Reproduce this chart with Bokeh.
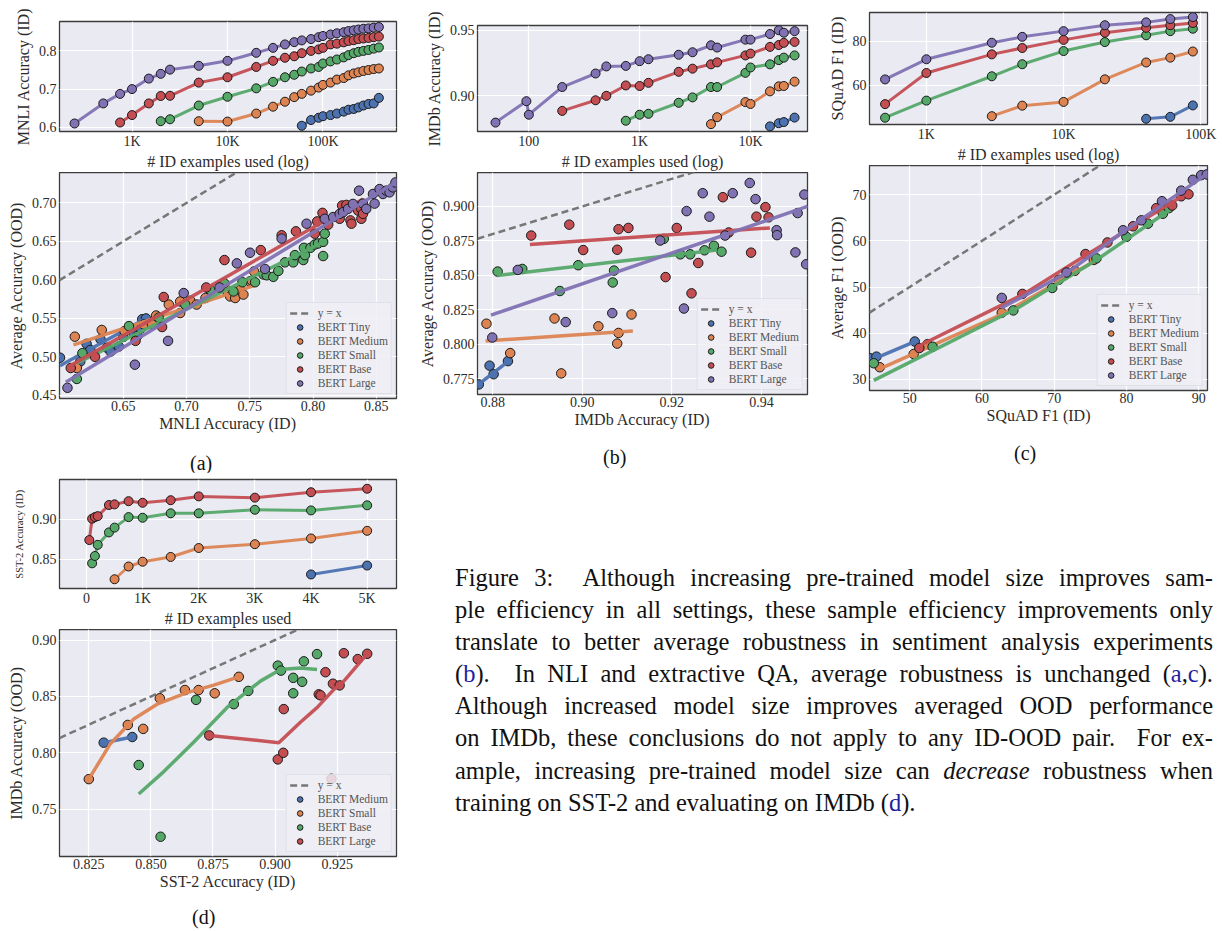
from bokeh.plotting import figure
from bokeh.layouts import column, row
from bokeh.models import Range1d, FixedTicker, PrintfTickFormatter, Legend, LegendItem, Div
from bokeh.embed import file_html
from bokeh.resources import INLINE

# ---------------- styles ----------------
BG = "#EAEAF2"
C_TINY, C_MED, C_SMALL, C_BASE, C_LARGE = "#4C72B0", "#DD8452", "#55A868", "#C44E52", "#8172B3"
SERIF = "Liberation Serif"

# ---------------- (a) MNLI: sample efficiency ----------------
mnli_n_large = [250, 500, 750, 1000, 1500, 2000, 2500, 5000, 10000, 20000, 30000, 40000, 50000, 60000, 75000,
                90000, 100000, 120000, 140000, 165000, 185000, 210000, 235000, 265000, 300000, 340000, 385000]
mnli_id_large = [0.610, 0.6625, 0.6875, 0.700, 0.7275, 0.740, 0.751, 0.761, 0.774, 0.795, 0.808, 0.817, 0.823,
                 0.8275, 0.831, 0.836, 0.839, 0.843, 0.846, 0.849, 0.852, 0.854, 0.856, 0.858, 0.859, 0.861, 0.8625]
mnli_n_base = mnli_n_large[2:]
mnli_id_base = [0.6125, 0.632, 0.6625, 0.682, 0.6825, 0.717, 0.731, 0.758, 0.774, 0.782, 0.786, 0.794, 0.800,
                0.804, 0.808, 0.817, 0.819, 0.8225, 0.826, 0.828, 0.831, 0.8325, 0.834, 0.836, 0.8375]
mnli_n_small = mnli_n_large[5:]
mnli_id_small = [0.616, 0.621, 0.657, 0.680, 0.702, 0.719, 0.731, 0.7375, 0.746, 0.754, 0.758, 0.767, 0.7725,
                 0.7775, 0.783, 0.789, 0.794, 0.7975, 0.800, 0.8025, 0.806, 0.809]
mnli_n_medium = mnli_n_large[7:]
mnli_id_medium = [0.616, 0.615, 0.636, 0.654, 0.667, 0.679, 0.6875, 0.696, 0.704, 0.711, 0.717, 0.725, 0.729,
                  0.736, 0.741, 0.744, 0.7475, 0.750, 0.7525, 0.754]
mnli_n_tiny = mnli_n_large[13:]
mnli_id_tiny = [0.604, 0.619, 0.625, 0.629, 0.632, 0.636, 0.641, 0.646, 0.648, 0.652, 0.657, 0.661, 0.6625, 0.677]

# ---------------- (a) MNLI: ID vs OOD ----------------
ab_tiny_x = [0.600, 0.616, 0.621, 0.624, 0.632, 0.637, 0.640, 0.6465, 0.650, 0.658, 0.661, 0.664, 0.665, 0.668]
ab_tiny_y = [0.499, 0.494, 0.517, 0.509, 0.523, 0.512, 0.507, 0.5135, 0.526, 0.531, 0.527, 0.537, 0.549, 0.550]
ab_med_x = [0.6117, 0.6133, 0.633, 0.651, 0.6663, 0.6728, 0.676, 0.686, 0.695, 0.695, 0.703, 0.708, 0.715, 0.7306,
            0.7327, 0.7345, 0.7385, 0.7424, 0.745, 0.750, 0.7516, 0.7534]
ab_med_y = [0.5263, 0.4856, 0.535, 0.5336, 0.5422, 0.5422, 0.5538, 0.568, 0.557, 0.572, 0.573, 0.568, 0.5765, 0.589,
            0.583, 0.5786, 0.5765, 0.587, 0.581, 0.598, 0.599, 0.611]
ab_small_x = [0.6133, 0.6177, 0.6545, 0.678, 0.699, 0.7188, 0.7298, 0.7371, 0.7442, 0.7542, 0.7608, 0.7634, 0.7686,
              0.7726, 0.7778, 0.7844, 0.7857, 0.7923, 0.7936, 0.7928, 0.798, 0.8014, 0.804, 0.808, 0.8093, 0.808]
ab_small_y = [0.4714, 0.5049, 0.540, 0.551, 0.568, 0.587, 0.5958, 0.585, 0.597, 0.597, 0.607, 0.606, 0.604, 0.6117,
              0.6228, 0.6228, 0.6322, 0.6258, 0.6322, 0.6417, 0.6417, 0.646, 0.6473, 0.6494, 0.660, 0.631]
ab_base_x = [0.6085, 0.6277, 0.6597, 0.6807, 0.682, 0.7156, 0.730, 0.7587, 0.7752, 0.7865, 0.8014, 0.8033, 0.8075,
             0.812, 0.8211, 0.823, 0.8264, 0.8296, 0.8304, 0.8356, 0.8382, 0.8382, 0.8395]
ab_base_y = [0.4856, 0.500, 0.5208, 0.5388, 0.5778, 0.5902, 0.6258, 0.6387, 0.658, 0.6631, 0.660, 0.676, 0.6871,
             0.6717, 0.6794, 0.6966, 0.6974, 0.6773, 0.673, 0.690, 0.6923, 0.6794, 0.6858]
ab_large_x = [0.6059, 0.6592, 0.6854, 0.6978, 0.7261, 0.7398, 0.7502, 0.762, 0.7752, 0.7949, 0.8093, 0.8159, 0.8211,
              0.8238, 0.8277, 0.8316, 0.8364, 0.8395, 0.8421, 0.8474, 0.8487, 0.8526, 0.8553, 0.8579, 0.8605, 0.8631,
              0.8652]
ab_large_y = [0.4599, 0.4899, 0.5208, 0.5829, 0.5902, 0.6215, 0.6353, 0.6142, 0.6537, 0.673, 0.6794, 0.6816, 0.6858,
              0.688, 0.6923, 0.6987, 0.7159, 0.6991, 0.6923, 0.7116, 0.6991, 0.718, 0.7116, 0.7159, 0.7137, 0.7202,
              0.7266]
ab_fit_tiny = ([0.600, 0.6689], [0.4886, 0.5508])
ab_fit_med = ([0.6106, 0.754], [0.5156, 0.593])
ab_fit_small = ([0.6133, 0.8093], [0.492, 0.650])
ab_fit_base = ([0.6085, 0.8395], [0.489, 0.705])
ab_fit_large = ([0.6046, 0.8652], [0.4672, 0.7266])

# ---------------- (b) IMDb: sample efficiency ----------------
imdb_n_large = [50, 95, 100, 200, 400, 500, 750, 1000, 1200, 2250, 3000, 4400, 5000, 9000, 10000, 15000, 18000,
                20000, 25000]
imdb_id_large = [0.8796, 0.8959, 0.8856, 0.9067, 0.917, 0.9224, 0.9228, 0.9264, 0.9279, 0.9313, 0.9332, 0.9385,
                 0.9368, 0.9428, 0.9428, 0.9471, 0.950, 0.9481, 0.9493]
imdb_n_base = imdb_n_large[3:]
imdb_id_base = [0.8885, 0.8966, 0.900, 0.9079, 0.9075, 0.9099, 0.9183, 0.9207, 0.924, 0.9255, 0.9308, 0.9322,
                0.9373, 0.9387, 0.9404, 0.9411]
imdb_n_small = imdb_n_large[6:]
imdb_id_small = [0.881, 0.8856, 0.8863, 0.8947, 0.8988, 0.9067, 0.9067, 0.9175, 0.9216, 0.924, 0.9272, 0.9291, 0.9308]
imdb_n_medium = imdb_n_large[11:]
imdb_id_medium = [0.8784, 0.8837, 0.8952, 0.8938, 0.9034, 0.9072, 0.9075, 0.9108]
imdb_n_tiny = imdb_n_large[15:]
imdb_id_tiny = [0.8767, 0.8791, 0.880, 0.8834]

# ---------------- (b) IMDb: ID vs OOD ----------------
bb_tiny_x = [0.8769, 0.8793, 0.8802, 0.8834]
bb_tiny_y = [0.771, 0.7846, 0.7784, 0.7879]
bb_med_x = [0.8786, 0.8839, 0.8938, 0.8953, 0.9036, 0.9078, 0.9081, 0.911]
bb_med_y = [0.815, 0.7937, 0.8188, 0.779, 0.8131, 0.8006, 0.8083, 0.8217]
bb_small_x = [0.8811, 0.8866, 0.895, 0.8991, 0.9068, 0.9071, 0.9182, 0.9219, 0.9241, 0.9273, 0.9294, 0.9311]
bb_small_y = [0.8528, 0.8547, 0.8387, 0.8574, 0.8449, 0.8535, 0.8765, 0.8653, 0.8653, 0.8682, 0.8715, 0.8672]
bb_base_x = [0.8886, 0.8971, 0.9002, 0.9081, 0.9078, 0.9103, 0.9186, 0.9211, 0.9244, 0.9259, 0.9314, 0.9327,
             0.9377, 0.9389, 0.9409, 0.9416]
bb_base_y = [0.8789, 0.8868, 0.8684, 0.8835, 0.8686, 0.8844, 0.8488, 0.8844, 0.837, 0.859, 0.9067, 0.8811,
             0.8665, 0.8926, 0.8995, 0.8921]
bb_large_x = [0.8799, 0.8856, 0.8963, 0.9067, 0.9174, 0.9227, 0.9233, 0.9269, 0.9284, 0.9319, 0.9336, 0.9374,
              0.9387, 0.9434, 0.9435, 0.9476, 0.9481, 0.9496, 0.950]
bb_large_y = [0.805, 0.854, 0.8162, 0.8227, 0.8753, 0.826, 0.8966, 0.9096, 0.8926, 0.8789, 0.9096, 0.917,
              0.9053, 0.8828, 0.8792, 0.8667, 0.8952, 0.9086, 0.8581]
bb_fit_tiny = ([0.8766, 0.884], [0.7705, 0.789])
bb_fit_med = ([0.8784, 0.9113], [0.8025, 0.8097])
bb_fit_small = ([0.881, 0.9301], [0.850, 0.8684])
bb_fit_base = ([0.8883, 0.9419], [0.8725, 0.8844])
bb_fit_large = ([0.8796, 0.9503], [0.8212, 0.900])

# ---------------- (c) SQuAD: sample efficiency ----------------
squad_n_large = [500, 1000, 3000, 5000, 10000, 20000, 40000, 60000, 87599]
squad_f1_large = [62.67, 71.85, 79.4, 82.1, 84.7, 87.4, 88.7, 90.2, 91.1]
squad_f1_base = [51.4, 65.6, 74.1, 77.0, 80.7, 84.0, 86.2, 87.4, 88.4]
squad_f1_small = [45.2, 53.0, 64.1, 69.6, 75.6, 79.7, 82.8, 84.7, 85.8]
squad_n_medium = squad_n_large[2:]
squad_f1_medium = [45.9, 50.7, 52.4, 62.7, 70.4, 72.6, 75.4]
squad_n_tiny = squad_n_large[6:]
squad_f1_tiny = [44.7, 45.6, 50.8]

# ---------------- (c) SQuAD: ID vs OOD ----------------
cb_tiny_x = [44.48, 45.4, 50.7]
cb_tiny_y = [34.6, 34.93, 38.2]
cb_med_x = [45.86, 50.55, 52.48, 62.74, 70.64, 72.85, 75.47]
cb_med_y = [32.64, 35.5, 37.64, 44.43, 51.57, 53.5, 55.86]
cb_small_x = [45.03, 53.17, 64.34, 69.72, 75.84, 79.98, 82.97, 85.03, 85.86]
cb_small_y = [33.5, 37.07, 44.93, 49.79, 56.2, 60.86, 63.71, 65.86, 67.07]
cb_base_x = [51.33, 65.59, 74.32, 77.36, 80.9, 84.11, 86.32, 87.56, 88.57]
cb_base_y = [36.79, 48.5, 57.14, 59.64, 63.14, 67.07, 67.64, 69.64, 70.07]
cb_large_x = [62.74, 71.7, 79.52, 82.05, 84.9, 87.56, 89.17, 90.32, 91.1]
cb_large_y = [47.64, 53.14, 62.29, 64.43, 68.57, 70.86, 73.21, 74.21, 74.36]
cb_fit_tiny = ([44.48, 50.7], [34.07, 38.2])
cb_fit_med = ([45.86, 62.74, 75.47], [32.29, 44.07, 55.5])
cb_fit_small = ([45.03, 65.0, 75.84, 85.86], [29.79, 45.5, 55.86, 66.57])
cb_fit_base = ([51.33, 65.59, 74.32, 88.57], [37.29, 48.3, 56.8, 70.5])
cb_fit_large = ([62.74, 71.7, 79.5, 91.1], [45.5, 53.0, 61.9, 74.43])

# ---------------- (d) SST-2: sample efficiency ----------------
sst_n_red = [50, 100, 150, 200, 400, 500, 750, 1000, 1500, 2000, 3000, 4000, 5000]
sst_id_red = [0.874, 0.9008, 0.9028, 0.904, 0.918, 0.9188, 0.9228, 0.9208, 0.924, 0.9288, 0.9272, 0.934, 0.9384]
sst_n_green = sst_n_red[1:]
sst_id_green = [0.8448, 0.854, 0.868, 0.8836, 0.8896, 0.9028, 0.902, 0.9076, 0.9076, 0.912, 0.9112, 0.9176]
sst_n_orange = sst_n_red[5:]
sst_id_orange = [0.8248, 0.8408, 0.8468, 0.8528, 0.864, 0.8688, 0.876, 0.8856]
sst_n_blue = sst_n_red[11:]
sst_id_blue = [0.8308, 0.842]

# ---------------- (d) SST-2 -> IMDb ----------------
db_med_x = [0.831, 0.8425]
db_med_y = [0.8091, 0.8141]
db_small_x = [0.825, 0.8407, 0.8469, 0.8536, 0.8637, 0.8692, 0.8757, 0.8854]
db_small_y = [0.7768, 0.8248, 0.8213, 0.8484, 0.8557, 0.8557, 0.8528, 0.8674]
db_base_x = [0.8451, 0.8539, 0.8682, 0.8834, 0.8892, 0.9011, 0.9024, 0.9073, 0.9073, 0.9109, 0.9116, 0.9169]
db_base_y = [0.7893, 0.7258, 0.847, 0.8432, 0.8549, 0.8773, 0.8729, 0.8665, 0.8528, 0.863, 0.8811, 0.8875]
db_large_x = [0.8735, 0.9011, 0.9033, 0.9035, 0.9176, 0.9183, 0.9203, 0.9227, 0.9233, 0.926, 0.9277, 0.9333, 0.9371]
db_large_y = [0.8155, 0.7943, 0.8001, 0.8388, 0.8519, 0.851, 0.8715, 0.7771, 0.8613, 0.8598, 0.8883, 0.8831, 0.8878]
db_fit_med = ([0.831, 0.8425], [0.8091, 0.8141])
db_fit_small = ([0.825, 0.8337, 0.8431, 0.8525, 0.8646, 0.8753, 0.8854],
                [0.7768, 0.8082, 0.8301, 0.8432, 0.8534, 0.8601, 0.8674])
db_fit_base = ([0.8451, 0.8552, 0.8673, 0.8807, 0.8941, 0.9022, 0.9102, 0.9169],
               [0.7637, 0.7835, 0.8097, 0.8403, 0.8636, 0.8738, 0.8752, 0.8738])
db_fit_large = ([0.8735, 0.9015, 0.9102, 0.917, 0.9237, 0.9277, 0.9371],
                [0.8155, 0.8091, 0.8272, 0.8403, 0.8563, 0.8636, 0.8878])

LABELS5 = ["BERT Tiny", "BERT Medium", "BERT Small", "BERT Base", "BERT Large"]
LABELS4 = ["BERT Medium", "BERT Small", "BERT Base", "BERT Large"]


def make_fig(w, h, borders, xr, yr, xticks, yticks, xlabel, ylabel, xlog=False,
             xfmt=None, yfmt=None, xover=None, ylabel_size="16px"):
    l, r, t, b = borders
    p = figure(width=w, height=h, x_range=Range1d(*xr), y_range=Range1d(*yr),
               x_axis_type="log" if xlog else "linear",
               output_backend="svg", toolbar_location=None,
               min_border_left=l, min_border_right=r, min_border_top=t, min_border_bottom=b,
               background_fill_color=BG, border_fill_color="white",
               outline_line_color="#3c3c3c", outline_line_width=1.3, margin=0)
    p.xaxis.ticker = FixedTicker(ticks=xticks)
    p.yaxis.ticker = FixedTicker(ticks=yticks)
    if xfmt:
        p.xaxis.formatter = PrintfTickFormatter(format=xfmt)
    if yfmt:
        p.yaxis.formatter = PrintfTickFormatter(format=yfmt)
    if xover:
        p.xaxis.major_label_overrides = xover
    for ax in (p.xaxis[0], p.yaxis[0]):
        ax.axis_line_color = None
        ax.major_tick_line_color = None
        ax.minor_tick_line_color = None
        ax.major_tick_out = 0
        ax.major_tick_in = 0
        ax.minor_tick_out = 0
        ax.minor_tick_in = 0
        ax.major_label_text_font = SERIF
        ax.major_label_text_font_size = "14px"
        ax.major_label_text_color = "#2b2b2b"
        ax.major_label_standoff = 2
        ax.axis_label_text_font = SERIF
        ax.axis_label_text_font_size = "16px"
        ax.axis_label_text_font_style = "normal"
        ax.axis_label_text_color = "#2b2b2b"
        ax.axis_label_standoff = 1
    p.yaxis.axis_label_standoff = 4
    p.yaxis.major_label_standoff = 3
    p.xaxis.axis_label = xlabel
    p.yaxis.axis_label = ylabel
    p.yaxis.axis_label_text_font_size = ylabel_size
    p.grid.grid_line_color = "white"
    p.grid.grid_line_width = 1.2
    return p


def curve(p, x, y, color, size=9, lw=3):
    p.line(x, y, line_color=color, line_width=lw, line_alpha=0.95)
    p.scatter(x, y, size=size, marker="circle", fill_color=color, line_color="#1a1a1a", line_width=1)


def dots(p, x, y, color, size=9.5):
    return p.scatter(x, y, size=size, marker="circle", fill_color=color, line_color="#1a1a1a", line_width=1)


def fitline(p, fit, color, lw=3.5):
    p.line(fit[0], fit[1], line_color=color, line_width=lw, line_alpha=0.95)


def diag(p, xr):
    return p.line([xr[0], xr[1]], [xr[0], xr[1]], line_color="#777777", line_width=2.5, line_dash="7 4")


def add_legend(p, dash_r, rends, labels):
    items = [LegendItem(label="y = x", renderers=[dash_r])]
    items += [LegendItem(label=lab, renderers=[r]) for lab, r in zip(labels, rends)]
    leg = Legend(items=items, location="bottom_right", margin=4, padding=3, spacing=0,
                 glyph_width=20, glyph_height=14, label_height=13, label_standoff=8,
                 label_text_font=SERIF, label_text_font_size="11.5px", label_text_color="#555555",
                 background_fill_color="#EEEEF4", background_fill_alpha=0.85,
                 border_line_color="#d2d2da", border_line_width=1)
    p.add_layout(leg)


def sub_label(text, w, h, left, top):
    html = ('<div style="box-sizing:content-box;padding-left:%dpx;padding-top:%dpx;font-family:\'Liberation Serif\';'
            'font-size:20px;line-height:20px;color:#111;">%s</div>' % (left, top, text))
    return Div(text=html, width=w, height=h, margin=0)


LOGK = {100: "100", 1000: "1K", 10000: "10K", 100000: "100K"}

# ---- (a) top
a_top = make_fig(405, 172, (59, 8, 21, 38), (174, 589000), (0.589, 0.877),
                 [1000, 10000, 100000], [0.6, 0.7, 0.8], "# ID examples used (log)", "MNLI Accuracy (ID)",
                 xlog=True, yfmt="%.1f", xover=LOGK)
for n, acc, c in [(mnli_n_tiny, mnli_id_tiny, C_TINY), (mnli_n_medium, mnli_id_medium, C_MED),
                  (mnli_n_small, mnli_id_small, C_SMALL), (mnli_n_base, mnli_id_base, C_BASE),
                  (mnli_n_large, mnli_id_large, C_LARGE)]:
    curve(a_top, n, acc, c)

# ---- (a) bottom
AB_X = (0.5996, 0.866)
a_bot = make_fig(405, 271, (59, 8, 0, 45), AB_X, (0.446, 0.7395),
                 [0.65, 0.70, 0.75, 0.80, 0.85], [0.45, 0.50, 0.55, 0.60, 0.65, 0.70],
                 "MNLI Accuracy (ID)", "Average Accuracy (OOD)", xfmt="%.2f", yfmt="%.2f")
dr = diag(a_bot, AB_X)
rends = []
for xs, ys, fit, c in [(ab_tiny_x, ab_tiny_y, ab_fit_tiny, C_TINY), (ab_med_x, ab_med_y, ab_fit_med, C_MED),
                       (ab_small_x, ab_small_y, ab_fit_small, C_SMALL), (ab_base_x, ab_base_y, ab_fit_base, C_BASE),
                       (ab_large_x, ab_large_y, ab_fit_large, C_LARGE)]:
    rends.append(dots(a_bot, xs, ys, c))
    fitline(a_bot, fit, c)
add_legend(a_bot, dr, rends, LABELS5)

# ---- (b) top
b_top = make_fig(420, 172, (72, 18, 25, 38), (34.4, 32700), (0.8728, 0.9536),
                 [100, 1000, 10000], [0.90, 0.95], "# ID examples used (log)", "IMDb Accuracy (ID)",
                 xlog=True, yfmt="%.2f", xover=LOGK)
for n, acc, c in [(imdb_n_tiny, imdb_id_tiny, C_TINY), (imdb_n_medium, imdb_id_medium, C_MED),
                  (imdb_n_small, imdb_id_small, C_SMALL), (imdb_n_base, imdb_id_base, C_BASE),
                  (imdb_n_large, imdb_id_large, C_LARGE)]:
    curve(b_top, n, acc, c)

# ---- (b) bottom
BB_X = (0.8766, 0.9503)
b_bot = make_fig(420, 265, (72, 18, 0, 43), BB_X, (0.7637, 0.9246),
                 [0.88, 0.90, 0.92, 0.94], [0.775, 0.800, 0.825, 0.850, 0.875, 0.900],
                 "IMDb Accuracy (ID)", "Average Accuracy (OOD)", xfmt="%.2f", yfmt="%.3f")
dr = diag(b_bot, BB_X)
rends = []
for xs, ys, fit, c in [(bb_tiny_x, bb_tiny_y, bb_fit_tiny, C_TINY), (bb_med_x, bb_med_y, bb_fit_med, C_MED),
                       (bb_small_x, bb_small_y, bb_fit_small, C_SMALL), (bb_base_x, bb_base_y, bb_fit_base, C_BASE),
                       (bb_large_x, bb_large_y, bb_fit_large, C_LARGE)]:
    rends.append(dots(b_bot, xs, ys, c))
    fitline(b_bot, fit, c)
add_legend(b_bot, dr, rends, LABELS5)

# ---- (c) top
c_top = make_fig(400, 165, (44, 18, 12, 38), (385, 112000), (42.1, 93.2),
                 [1000, 10000, 100000], [60, 80], "# ID examples used (log)", "SQuAD F1 (ID)",
                 xlog=True, yfmt="%d", xover=LOGK)
for n, f1, c in [(squad_n_tiny, squad_f1_tiny, C_TINY), (squad_n_medium, squad_f1_medium, C_MED),
                 (squad_n_large, squad_f1_small, C_SMALL), (squad_n_large, squad_f1_base, C_BASE),
                 (squad_n_large, squad_f1_large, C_LARGE)]:
    curve(c_top, n, f1, c)

# ---- (c) bottom
CB_X = (44.44, 91.2)
c_bot = make_fig(400, 268, (44, 17, 0, 43), CB_X, (27.6, 76.3),
                 [50, 60, 70, 80, 90], [30, 40, 50, 60, 70],
                 "SQuAD F1 (ID)", "Average F1 (OOD)", xfmt="%d", yfmt="%d")
dr = diag(c_bot, CB_X)
rends = []
for xs, ys, fit, c in [(cb_tiny_x, cb_tiny_y, cb_fit_tiny, C_TINY), (cb_med_x, cb_med_y, cb_fit_med, C_MED),
                       (cb_small_x, cb_small_y, cb_fit_small, C_SMALL), (cb_base_x, cb_base_y, cb_fit_base, C_BASE),
                       (cb_large_x, cb_large_y, cb_fit_large, C_LARGE)]:
    rends.append(dots(c_bot, xs, ys, c))
    fitline(c_bot, fit, c)
add_legend(c_bot, dr, rends, LABELS5)

# ---- (d) top
d_top = make_fig(405, 157, (59, 9, 7, 38), (-481, 5523), (0.8132, 0.950),
                 [0, 1000, 2000, 3000, 4000, 5000], [0.85, 0.90], "# ID examples used", "SST-2 Accuracy (ID)",
                 yfmt="%.2f", xover={0: "0", 1000: "1K", 2000: "2K", 3000: "3K", 4000: "4K", 5000: "5K"},
                 ylabel_size="10.5px")
for n, acc, c in [(sst_n_blue, sst_id_blue, C_TINY), (sst_n_orange, sst_id_orange, C_MED),
                  (sst_n_green, sst_id_green, C_SMALL), (sst_n_red, sst_id_red, C_BASE)]:
    curve(d_top, n, acc, c)

# ---- (d) bottom
DB_X = (0.8132, 0.9489)
d_bot = make_fig(405, 267, (59, 9, 0, 40), DB_X, (0.7083, 0.9093),
                 [0.825, 0.850, 0.875, 0.900, 0.925], [0.75, 0.80, 0.85, 0.90],
                 "SST-2 Accuracy (ID)", "IMDb Accuracy (OOD)", xfmt="%.3f", yfmt="%.2f")
dr = diag(d_bot, DB_X)
rends = []
for xs, ys, fit, c in [(db_med_x, db_med_y, db_fit_med, C_TINY), (db_small_x, db_small_y, db_fit_small, C_MED),
                       (db_base_x, db_base_y, db_fit_base, C_SMALL), (db_large_x, db_large_y, db_fit_large, C_BASE)]:
    rends.append(dots(d_bot, xs, ys, c))
    fitline(d_bot, fit, c)
add_legend(d_bot, dr, rends, LABELS4)

# ---------------- caption ----------------
LNK = '<span style="color:#1f1f9e">%s</span>'
caption_lines = [
    "Figure 3:&nbsp; Although increasing pre-trained model size improves sam-",
    "ple efficiency in all settings, these sample efficiency improvements only",
    "translate to better average robustness in sentiment analysis experiments",
    "(" + LNK % "b" + ").&nbsp; In NLI and extractive QA, average robustness is unchanged (" + LNK % "a" + "," + LNK % "c" + ").",
    "Although increased model size improves averaged OOD performance",
    "on IMDb, these conclusions do not apply to any ID-OOD pair.&nbsp; For ex-",
    "ample, increasing pre-trained model size can <i>decrease</i> robustness when",
    "training on SST-2 and evaluating on IMDb (" + LNK % "d" + ").",
]
inner = ""
for i, ln in enumerate(caption_lines):
    if i < len(caption_lines) - 1:
        inner += ('<div style="text-align:justify;text-align-last:justify;white-space:nowrap;'
                  'height:32.1px;">%s</div>' % ln)
    else:
        inner += '<div style="text-align:left;white-space:nowrap;height:32.1px;">%s</div>' % ln
caption = Div(text=('<div style="box-sizing:content-box;padding-left:50px;padding-top:92px;width:758px;'
                    'font-family:\'Liberation Serif\';font-size:24.5px;line-height:32.1px;color:#111;'
                    'overflow:hidden;">%s</div>' % inner),
              width=820, height=440, margin=0)

col1 = column(a_top, a_bot, sub_label("(a)", 405, 29, 190, 10), d_top, d_bot,
              sub_label("(d)", 405, 30, 192, 11), spacing=0)
colB = column(b_top, b_bot, sub_label("(b)", 420, 33, 198, 10), spacing=0)
colC = column(c_top, c_bot, sub_label("(c)", 400, 37, 189, 10), spacing=0)
right = column(row(colB, colC, spacing=0), caption, spacing=0)
layout = row(col1, right, spacing=0)

open("out.html", "w").write(file_html(layout, INLINE))
